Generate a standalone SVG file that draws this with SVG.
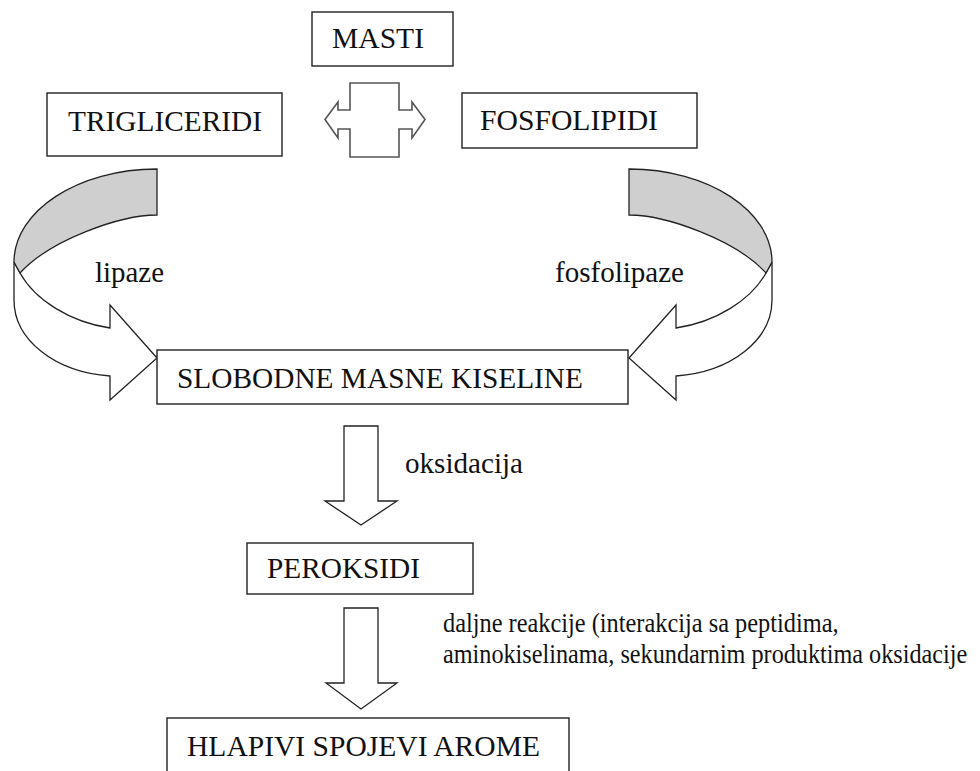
<svg xmlns="http://www.w3.org/2000/svg" width="980" height="771" viewBox="0 0 980 771">
<style>
.box{fill:#fff;stroke:#222;stroke-width:1.4}
text{font-family:'Liberation Serif','Times New Roman',serif;fill:#111}
.t{font-size:29px}
.s{font-size:28px}
.arr{fill:#fff;stroke:#222;stroke-width:1.3;stroke-linejoin:miter}
.dbl{fill:#fff;stroke:#555;stroke-width:1.6}
.back{fill:#cfcfcf;stroke:#222;stroke-width:1.3}
</style>
<defs>
<g id="curve">
<path class="arr" d="M20,273 C35,300 70,322 110,328 L110,305 L157,358 L110,400 L110,376 C55,372 14,340 14,300 L14,262 Z"/>
<path class="back" d="M157,169 C78,169 14,211 14,262 L20,273 C50,240 120,215 157,215 Z"/>
</g>
</defs>
<rect width="980" height="771" fill="#fff"/>
<g id="connectors">
<path id="masti-exchange" class="dbl" d="M350,83 L399,83 L399,110 L412,110 L412,102 L425,119.5 L412,138 L412,129 L399,129 L399,157 L350,157 L350,129 L338,129 L338,138 L325,119.5 L338,102 L338,110 L350,110 Z"/>
<use id="lipaze-arrow" href="#curve"/>
<use id="fosfolipaze-arrow" href="#curve" transform="translate(786,0) scale(-1,1)"/>
<path id="oksidacija-arrow" class="arr" d="M344,426 L378,426 L378,501 L397,501 L361,525 L325,501 L344,501 Z"/>
<path id="daljne-arrow" class="arr" d="M344,608 L378,608 L378,683 L397,683 L361,709 L326,683 L344,683 Z"/>
<text class="t" x="95" y="282" textLength="69" lengthAdjust="spacingAndGlyphs">lipaze</text>
<text class="t" x="555" y="282" textLength="129" lengthAdjust="spacingAndGlyphs">fosfolipaze</text>
<text class="t" x="405" y="473" textLength="118" lengthAdjust="spacingAndGlyphs">oksidacija</text>
<text class="s" transform="translate(443,632) scale(0.87,1)">daljne reakcije (interakcija sa peptidima,</text>
<text class="s" transform="translate(443,663) scale(0.865,1)">aminokiselinama, sekundarnim produktima oksidacije</text>
</g>
<g id="masti">
<rect class="box" x="312" y="12" width="141" height="54"/>
<text class="t" x="332" y="48" textLength="92" lengthAdjust="spacingAndGlyphs">MASTI</text>
</g>
<g id="trigliceridi">
<rect class="box" x="47" y="93" width="235" height="63"/>
<text class="t" x="68" y="131" textLength="194" lengthAdjust="spacingAndGlyphs">TRIGLICERIDI</text>
</g>
<g id="fosfolipidi">
<rect class="box" x="462" y="93" width="235" height="55"/>
<text class="t" x="480" y="130" textLength="178" lengthAdjust="spacingAndGlyphs">FOSFOLIPIDI</text>
</g>
<g id="slobodne">
<rect class="box" x="157" y="350" width="471" height="54"/>
<text class="t" x="177" y="388" textLength="406" lengthAdjust="spacingAndGlyphs">SLOBODNE MASNE KISELINE</text>
</g>
<g id="peroksidi">
<rect class="box" x="247" y="543" width="226" height="51"/>
<text class="t" x="267" y="578" textLength="153" lengthAdjust="spacingAndGlyphs">PEROKSIDI</text>
</g>
<g id="hlapivi">
<rect class="box" x="167" y="718" width="402" height="70"/>
<text class="t" x="187" y="756" textLength="353" lengthAdjust="spacingAndGlyphs">HLAPIVI SPOJEVI AROME</text>
</g>
</svg>
